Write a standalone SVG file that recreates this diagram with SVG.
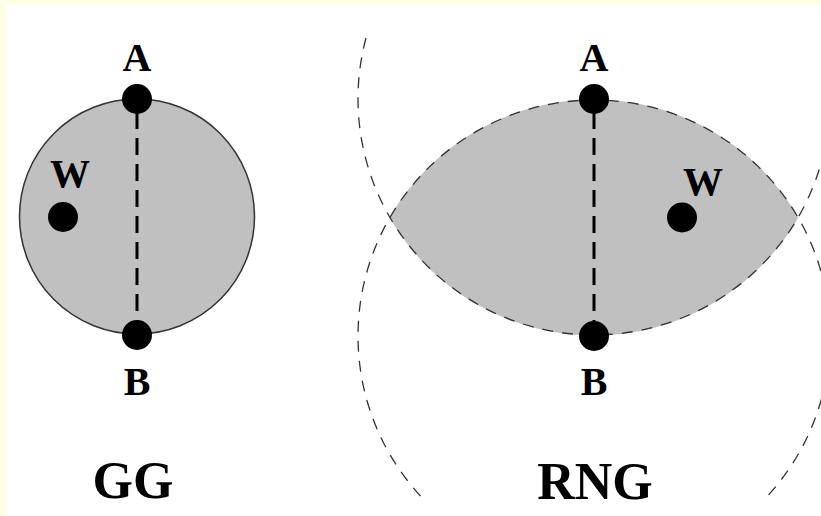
<svg xmlns="http://www.w3.org/2000/svg" width="821" height="516" viewBox="0 0 821 516">
<style>
.lbl{font-family:"Liberation Serif","Times New Roman",serif;font-weight:bold;font-size:40px;fill:#000;text-anchor:middle}
.title{font-family:"Liberation Serif","Times New Roman",serif;font-weight:bold;font-size:52px;fill:#000;text-anchor:middle}
.dot{fill:#000}
.region{fill:#c0c0c0}
.thin{fill:none;stroke:#333;stroke-width:1.3;stroke-dasharray:11 9}
.edge{stroke:#000;stroke-width:3;stroke-dasharray:17 9}
</style>
<rect x="0" y="0" width="821" height="516" fill="#ffffe6"/>
<rect x="6" y="4" width="815" height="512" fill="#ffffff"/>

<g id="gg-region">
<circle cx="137" cy="216.5" r="117.5" class="region" stroke="#333" stroke-width="1.5"/>
</g>
<g id="rng-region">
<path class="region" d="M389.6 217.5 A236 236 0 0 1 798.4 217.5 A236 236 0 0 1 389.6 217.5 Z"/>
<path class="thin" d="M366 38 A236 236 0 1 0 822 38"/>
<path class="thin" d="M420.5 496 A236 236 0 1 1 767.5 496"/>
</g>

<g id="connectors">
<line class="edge" x1="137" y1="112" x2="137" y2="322"/>
<line class="edge" x1="594" y1="112" x2="594" y2="322"/>
</g>

<g id="gg-A"><circle class="dot" cx="137" cy="99" r="15"/><text class="lbl" x="137" y="71">A</text></g>
<g id="gg-B"><circle class="dot" cx="137" cy="335" r="15"/><text class="lbl" x="137" y="395">B</text></g>
<g id="gg-W"><circle class="dot" cx="63" cy="217" r="15"/><text class="lbl" x="70" y="187">W</text></g>

<g id="rng-A"><circle class="dot" cx="594" cy="99" r="15"/><text class="lbl" x="594" y="71">A</text></g>
<g id="rng-B"><circle class="dot" cx="594" cy="336" r="15"/><text class="lbl" x="594" y="395">B</text></g>
<g id="rng-W"><circle class="dot" cx="682" cy="217.5" r="15"/><text class="lbl" x="703" y="195">W</text></g>

<g id="titles">
<text class="title" x="133" y="498">GG</text>
<text class="title" x="595" y="499">RNG</text>
</g>
</svg>
